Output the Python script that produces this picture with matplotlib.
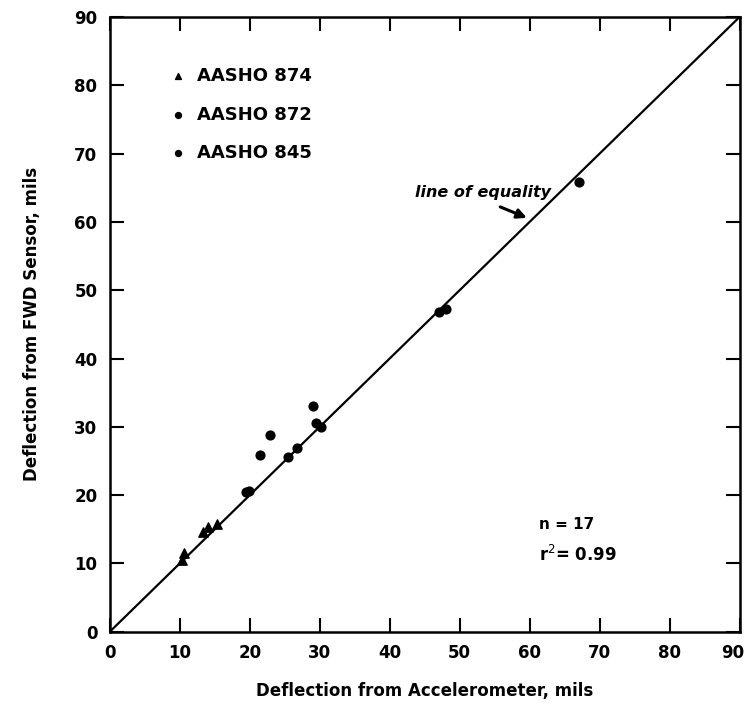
import matplotlib
matplotlib.use("Agg")
import matplotlib.pyplot as plt
from matplotlib.transforms import ScaledTranslation

# Data
s874_x = [10.3, 10.6, 13.3, 14.0, 15.3]
s874_y = [10.5, 11.5, 14.6, 15.3, 15.8]
s872_x = [19.4, 21.4, 22.9, 25.5, 26.7, 29.0]
s872_y = [20.5, 25.9, 28.8, 25.6, 26.9, 33.1]
s845_x = [29.5, 30.2, 47.0, 48.0, 67.1, 19.9]
s845_y = [30.5, 30.0, 46.8, 47.3, 65.8, 20.6]
legend_labels = ["AASHO 874", "AASHO 872", "AASHO 845"]
ticks = [0, 10, 20, 30, 40, 50, 60, 70, 80, 90]
equality = [0, 90]

fig = plt.figure(figsize=(7.47, 7.09), dpi=100)
ax = fig.add_axes([0.147, 0.109, 0.843, 0.867])
ax.set_xlim(0, 90)
ax.set_ylim(0, 90)

ax.plot(equality, equality, color="black", lw=1.6)
ax.scatter(s874_x, s874_y, marker="^", s=45, color="black", zorder=3)
ax.scatter(s872_x, s872_y, marker="o", s=40, color="black", zorder=3)
ax.scatter(s845_x, s845_y, marker="o", s=40, color="black", zorder=3)

# legend drawn in data coords
leg_y = [81.3, 75.6, 70.1]
markers = ["^", "o", "o"]
for lab, yy, mk in zip(legend_labels, leg_y, markers):
    ax.scatter([9.7], [yy], marker=mk, s=18, color="black")
    ax.text(12.4, yy, lab, fontsize=13, fontweight="bold", va="center", ha="left")

ax.text(61.3, 15.7, "n = 17", fontsize=11, fontweight="bold", va="center")
ax.text(61.3, 11.2, "r$^2$= 0.99", fontsize=12, fontweight="bold", va="center")

ax.text(43.6, 64.3, "line of equality", fontsize=11.5, fontweight="bold",
        style="italic", va="center")
ax.annotate("", xy=(59.6, 60.6), xytext=(55.8, 62.2),
            arrowprops=dict(arrowstyle="-|>", color="black", lw=2.2,
                            shrinkA=0, shrinkB=0, mutation_scale=14))

ax.set_xticks(ticks)
ax.set_yticks(ticks)
ax.tick_params(axis="both", direction="in", length=10, width=1.5,
               labelsize=12, top=True, right=True, pad=9)
for lab in ax.get_xticklabels() + ax.get_yticklabels():
    lab.set_fontweight("bold")
last = ax.get_xticklabels()[-1]
last.set_transform(last.get_transform() + ScaledTranslation(-0.07, 0, fig.dpi_scale_trans))
for sp in ax.spines.values():
    sp.set_linewidth(1.8)

ax.set_xlabel("Deflection from Accelerometer, mils", fontsize=12,
              fontweight="bold", labelpad=14)
ax.set_ylabel("Deflection from FWD Sensor, mils", fontsize=12,
              fontweight="bold", labelpad=24)

fig.savefig("out.png", dpi=100)
